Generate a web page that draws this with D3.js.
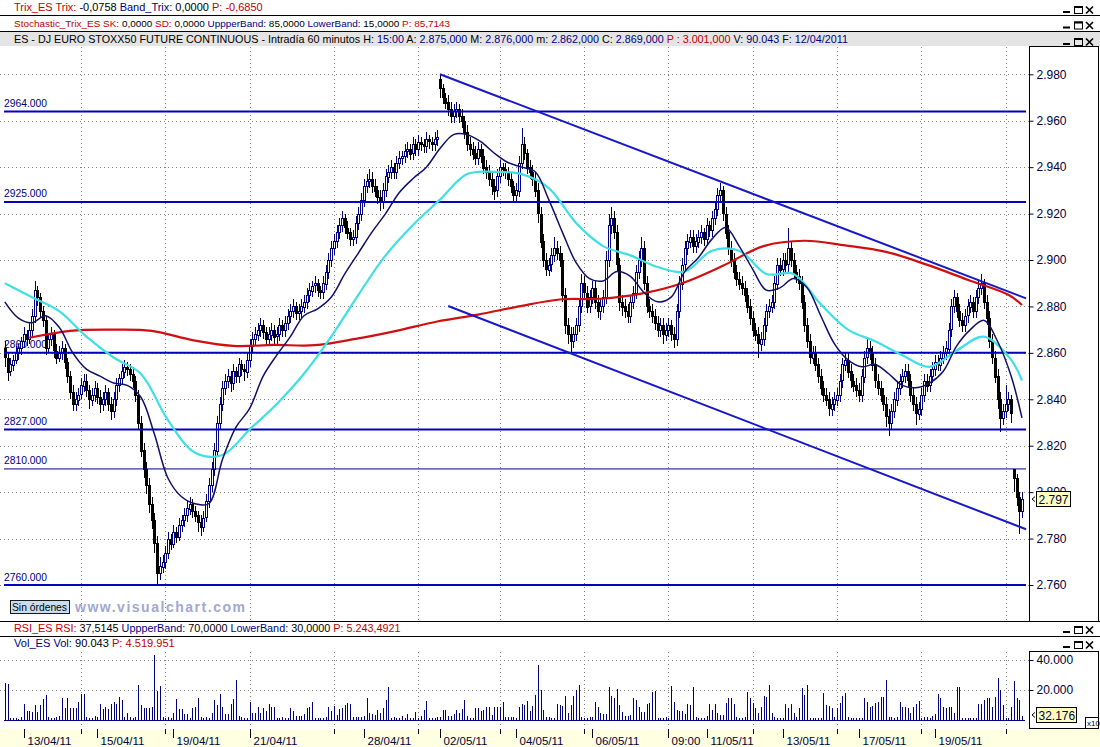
<!DOCTYPE html>
<html>
<head>
<meta charset="utf-8">
<script src="https://cdn.jsdelivr.net/npm/d3@7"></script>
<style>
  body { margin: 0; background: #fff; overflow: hidden; }
  svg { display: block; font-family: "Liberation Sans", Arial, sans-serif; }
</style>
</head>
<body>
<div id="chart"></div>
<script>
// ES - DJ Euro Stoxx50 future, 60 minute bars, 12/04/2011 .. 20/05/2011.

// OHLC per hourly bar (15 bars per row).
const closes = [
  2858, 2852, 2855, 2857, 2860, 2862, 2865, 2868, 2866, 2870, 2876, 2887, 2884, 2878, 2874,
  2862, 2866, 2868, 2861, 2858, 2860, 2862, 2856, 2850, 2843, 2838, 2840, 2842, 2846, 2848,
  2844, 2840, 2842, 2845, 2841, 2838, 2840, 2843, 2838, 2835, 2840, 2846, 2849, 2852, 2854,
  2853, 2851, 2848, 2842, 2830, 2818, 2810, 2803, 2795, 2788, 2778, 2765, 2768, 2770, 2774,
  2780, 2778, 2783, 2781, 2786, 2788, 2790, 2793, 2795, 2792, 2790, 2787, 2785, 2789, 2796,
  2803, 2810, 2818, 2830, 2838, 2845, 2848, 2850, 2847, 2852, 2850, 2855, 2853, 2852, 2857,
  2863, 2866, 2868, 2870, 2872, 2869, 2866, 2868, 2870, 2867, 2868, 2872, 2870, 2873, 2876,
  2878, 2880, 2877, 2878, 2880, 2882, 2885, 2887, 2889, 2890, 2887, 2886, 2890, 2895, 2900,
  2905, 2908, 2912, 2915, 2918, 2914, 2912, 2909, 2910, 2916, 2920, 2926, 2932, 2934, 2935,
  2932, 2930, 2927, 2925, 2930, 2936, 2938, 2940, 2938, 2942, 2944, 2945, 2947, 2948, 2946,
  2950, 2948, 2951, 2950, 2949, 2952, 2951, 2950, 2952, 2953, 2974, 2970, 2968, 2965, 2962,
  2964, 2965, 2962, 2960, 2955, 2950, 2948, 2946, 2944, 2948, 2945, 2940, 2938, 2935, 2932,
  2930, 2936, 2940, 2939, 2938, 2935, 2932, 2928, 2930, 2942, 2950, 2946, 2940, 2938, 2935,
  2930, 2920, 2908, 2900, 2896, 2898, 2902, 2905, 2903, 2900, 2885, 2872, 2868, 2865, 2868,
  2872, 2880, 2890, 2886, 2880, 2884, 2888, 2882, 2878, 2880, 2884, 2900, 2915, 2918, 2912,
  2898, 2882, 2880, 2878, 2876, 2882, 2886, 2895, 2900, 2905, 2890, 2880, 2878, 2876, 2873,
  2870, 2872, 2868, 2870, 2872, 2868, 2866, 2878, 2890, 2898, 2905, 2908, 2910, 2906, 2908,
  2910, 2912, 2909, 2915, 2913, 2918, 2922, 2928, 2930, 2920, 2912, 2905, 2900, 2895, 2892,
  2890, 2888, 2885, 2880, 2875, 2870, 2868, 2864, 2866, 2872, 2878, 2880, 2882, 2890, 2898,
  2896, 2900, 2898, 2905, 2900, 2895, 2893, 2890, 2882, 2872, 2865, 2858, 2860, 2855, 2850,
  2845, 2842, 2840, 2836, 2838, 2840, 2842, 2848, 2855, 2857, 2852, 2848, 2846, 2844, 2842,
  2850, 2858, 2862, 2860, 2855, 2848, 2845, 2842, 2838, 2833, 2830, 2835, 2840, 2845, 2848,
  2850, 2852, 2848, 2842, 2838, 2834, 2836, 2842, 2848, 2846, 2850, 2853, 2856, 2855, 2858,
  2860, 2862, 2870, 2880, 2884, 2878, 2874, 2872, 2876, 2880, 2882, 2878, 2884, 2888, 2890,
  2882, 2875, 2865, 2858, 2850, 2840, 2832, 2835, 2838, 2840, 2834, 2806, 2798, 2792, 2797
];
const opens = [
  2862, 2858, 2852, 2855, 2857, 2860, 2862, 2865, 2868, 2866, 2870, 2876, 2887, 2884, 2878,
  2874, 2862, 2866, 2868, 2861, 2858, 2860, 2862, 2856, 2850, 2843, 2838, 2840, 2842, 2846,
  2848, 2844, 2840, 2842, 2845, 2841, 2838, 2840, 2843, 2838, 2835, 2840, 2846, 2849, 2852,
  2854, 2853, 2851, 2848, 2842, 2830, 2818, 2810, 2803, 2795, 2788, 2778, 2765, 2768, 2770,
  2774, 2780, 2778, 2783, 2781, 2786, 2788, 2790, 2793, 2795, 2792, 2790, 2787, 2785, 2789,
  2796, 2803, 2810, 2818, 2830, 2838, 2845, 2848, 2850, 2847, 2852, 2850, 2855, 2853, 2852,
  2857, 2863, 2866, 2868, 2870, 2872, 2869, 2866, 2868, 2870, 2867, 2868, 2872, 2870, 2873,
  2876, 2878, 2880, 2877, 2878, 2880, 2882, 2885, 2887, 2889, 2890, 2887, 2886, 2890, 2895,
  2900, 2905, 2908, 2912, 2915, 2918, 2914, 2912, 2909, 2910, 2916, 2920, 2926, 2932, 2934,
  2935, 2932, 2930, 2927, 2925, 2930, 2936, 2938, 2940, 2938, 2942, 2944, 2945, 2947, 2948,
  2946, 2950, 2948, 2951, 2950, 2949, 2952, 2951, 2950, 2952, 2978, 2974, 2970, 2968, 2965,
  2962, 2964, 2965, 2962, 2960, 2955, 2950, 2948, 2946, 2944, 2948, 2945, 2940, 2938, 2935,
  2932, 2930, 2936, 2940, 2939, 2938, 2935, 2932, 2928, 2930, 2942, 2950, 2946, 2940, 2938,
  2935, 2930, 2920, 2908, 2900, 2896, 2898, 2902, 2905, 2903, 2900, 2885, 2872, 2868, 2865,
  2868, 2872, 2880, 2890, 2886, 2880, 2884, 2888, 2882, 2878, 2880, 2884, 2900, 2915, 2918,
  2912, 2898, 2882, 2880, 2878, 2876, 2882, 2886, 2895, 2900, 2905, 2890, 2880, 2878, 2876,
  2873, 2870, 2872, 2868, 2870, 2872, 2868, 2866, 2878, 2890, 2898, 2905, 2908, 2910, 2906,
  2908, 2910, 2912, 2909, 2915, 2913, 2918, 2922, 2928, 2930, 2920, 2912, 2905, 2900, 2895,
  2892, 2890, 2888, 2885, 2880, 2875, 2870, 2868, 2864, 2866, 2872, 2878, 2880, 2882, 2890,
  2898, 2896, 2900, 2898, 2905, 2900, 2895, 2893, 2890, 2882, 2872, 2865, 2858, 2860, 2855,
  2850, 2845, 2842, 2840, 2836, 2838, 2840, 2842, 2848, 2855, 2857, 2852, 2848, 2846, 2844,
  2842, 2850, 2858, 2862, 2860, 2855, 2848, 2845, 2842, 2838, 2833, 2830, 2835, 2840, 2845,
  2848, 2850, 2852, 2848, 2842, 2838, 2834, 2836, 2842, 2848, 2846, 2850, 2853, 2856, 2855,
  2858, 2860, 2862, 2870, 2880, 2884, 2878, 2874, 2872, 2876, 2880, 2882, 2878, 2884, 2888,
  2890, 2882, 2875, 2865, 2858, 2850, 2840, 2832, 2835, 2838, 2840, 2810, 2806, 2798, 2792
];
const highs = [
  2865, 2860, 2858, 2859, 2863, 2864, 2867, 2871, 2870, 2873, 2879, 2891, 2889, 2886, 2880,
  2876, 2868, 2871, 2870, 2864, 2863, 2865, 2864, 2858, 2852, 2846, 2843, 2845, 2849, 2851,
  2851, 2846, 2845, 2848, 2847, 2844, 2843, 2846, 2845, 2841, 2843, 2849, 2851, 2855, 2857,
  2856, 2855, 2854, 2850, 2844, 2833, 2821, 2813, 2806, 2798, 2791, 2781, 2772, 2773, 2777,
  2783, 2782, 2786, 2785, 2789, 2790, 2793, 2796, 2798, 2797, 2794, 2792, 2790, 2792, 2799,
  2806, 2813, 2821, 2833, 2841, 2848, 2851, 2853, 2852, 2855, 2854, 2858, 2857, 2855, 2860,
  2866, 2869, 2871, 2873, 2875, 2874, 2871, 2871, 2873, 2872, 2871, 2875, 2874, 2876, 2879,
  2881, 2883, 2882, 2881, 2883, 2885, 2888, 2890, 2891, 2893, 2892, 2889, 2893, 2898, 2903,
  2908, 2911, 2915, 2918, 2921, 2920, 2917, 2914, 2913, 2919, 2923, 2929, 2935, 2937, 2939,
  2938, 2935, 2932, 2930, 2933, 2939, 2941, 2943, 2942, 2945, 2947, 2947, 2950, 2951, 2950,
  2953, 2952, 2954, 2953, 2952, 2955, 2954, 2953, 2955, 2956, 2980, 2976, 2972, 2971, 2968,
  2967, 2968, 2967, 2965, 2962, 2958, 2953, 2951, 2949, 2951, 2950, 2948, 2943, 2941, 2938,
  2935, 2939, 2943, 2942, 2942, 2940, 2938, 2934, 2933, 2945, 2957, 2953, 2948, 2943, 2941,
  2938, 2933, 2923, 2911, 2903, 2901, 2905, 2910, 2908, 2906, 2903, 2888, 2875, 2871, 2871,
  2875, 2883, 2894, 2893, 2889, 2887, 2891, 2891, 2885, 2883, 2887, 2904, 2920, 2923, 2921,
  2915, 2901, 2885, 2883, 2881, 2885, 2889, 2898, 2904, 2910, 2908, 2893, 2883, 2881, 2879,
  2876, 2875, 2875, 2873, 2875, 2874, 2871, 2881, 2893, 2901, 2908, 2911, 2913, 2913, 2911,
  2913, 2915, 2914, 2918, 2917, 2921, 2925, 2931, 2933, 2932, 2923, 2915, 2908, 2903, 2898,
  2895, 2893, 2891, 2888, 2883, 2878, 2873, 2871, 2869, 2875, 2881, 2883, 2885, 2893, 2901,
  2901, 2903, 2903, 2914, 2908, 2903, 2898, 2896, 2893, 2885, 2875, 2868, 2863, 2863, 2858,
  2853, 2848, 2845, 2843, 2841, 2843, 2845, 2851, 2858, 2860, 2860, 2855, 2851, 2849, 2847,
  2853, 2861, 2866, 2865, 2863, 2858, 2851, 2848, 2845, 2841, 2836, 2838, 2843, 2848, 2851,
  2853, 2855, 2855, 2851, 2845, 2841, 2839, 2845, 2851, 2851, 2853, 2856, 2859, 2859, 2861,
  2863, 2865, 2873, 2883, 2887, 2886, 2881, 2877, 2879, 2883, 2885, 2884, 2887, 2891, 2894,
  2892, 2885, 2878, 2868, 2861, 2853, 2843, 2838, 2846, 2843, 2842, 2810, 2808, 2800, 2800
];
const lows = [
  2854, 2848, 2850, 2852, 2855, 2857, 2859, 2862, 2863, 2864, 2867, 2873, 2880, 2875, 2871,
  2859, 2860, 2863, 2858, 2855, 2856, 2857, 2853, 2847, 2840, 2835, 2835, 2837, 2840, 2843,
  2841, 2836, 2837, 2839, 2838, 2834, 2835, 2837, 2835, 2831, 2832, 2837, 2843, 2846, 2849,
  2850, 2848, 2845, 2839, 2827, 2815, 2806, 2799, 2791, 2784, 2774, 2760, 2762, 2765, 2767,
  2771, 2775, 2776, 2778, 2779, 2783, 2785, 2787, 2790, 2789, 2787, 2783, 2781, 2783, 2787,
  2793, 2800, 2807, 2815, 2827, 2835, 2842, 2845, 2843, 2844, 2847, 2847, 2850, 2848, 2849,
  2854, 2860, 2863, 2865, 2867, 2866, 2863, 2863, 2865, 2864, 2864, 2865, 2867, 2867, 2870,
  2873, 2875, 2874, 2874, 2875, 2877, 2879, 2882, 2884, 2886, 2884, 2883, 2883, 2887, 2892,
  2897, 2902, 2905, 2909, 2912, 2911, 2909, 2906, 2906, 2907, 2913, 2917, 2923, 2929, 2931,
  2929, 2927, 2924, 2921, 2922, 2927, 2933, 2935, 2935, 2935, 2939, 2941, 2942, 2944, 2943,
  2943, 2945, 2945, 2947, 2946, 2946, 2948, 2947, 2947, 2949, 2970, 2967, 2965, 2962, 2959,
  2959, 2961, 2959, 2957, 2952, 2947, 2945, 2943, 2941, 2941, 2942, 2937, 2935, 2932, 2928,
  2926, 2927, 2933, 2936, 2935, 2932, 2929, 2925, 2925, 2927, 2939, 2943, 2937, 2935, 2932,
  2927, 2916, 2905, 2897, 2893, 2893, 2895, 2899, 2900, 2897, 2882, 2868, 2864, 2860, 2862,
  2865, 2869, 2877, 2883, 2877, 2877, 2881, 2879, 2875, 2874, 2877, 2881, 2897, 2911, 2909,
  2895, 2878, 2876, 2875, 2873, 2873, 2879, 2883, 2892, 2897, 2887, 2877, 2875, 2873, 2870,
  2867, 2867, 2864, 2865, 2867, 2865, 2862, 2863, 2875, 2887, 2895, 2902, 2905, 2903, 2903,
  2905, 2907, 2906, 2906, 2910, 2910, 2915, 2919, 2925, 2917, 2909, 2902, 2897, 2892, 2889,
  2887, 2885, 2882, 2877, 2872, 2867, 2865, 2858, 2861, 2863, 2869, 2875, 2877, 2879, 2887,
  2893, 2893, 2895, 2895, 2897, 2892, 2890, 2887, 2879, 2869, 2862, 2855, 2855, 2852, 2847,
  2842, 2839, 2837, 2833, 2833, 2835, 2837, 2839, 2845, 2852, 2849, 2845, 2843, 2841, 2839,
  2839, 2847, 2855, 2857, 2852, 2845, 2842, 2839, 2835, 2828, 2824, 2827, 2832, 2837, 2842,
  2845, 2847, 2845, 2839, 2835, 2829, 2831, 2833, 2839, 2843, 2843, 2847, 2850, 2852, 2852,
  2855, 2857, 2859, 2867, 2877, 2875, 2871, 2869, 2869, 2873, 2877, 2875, 2875, 2881, 2885,
  2879, 2872, 2862, 2855, 2847, 2836, 2826, 2829, 2832, 2835, 2830, 2800, 2794, 2782, 2789
];

// Volume per bar, in thousands of contracts (axis units).
const volumeK = [
  24.4, 23.8, 1.5, 1.2, 1.5, 1.0, 1.8, 10.4, 6, 6, 5.5, 10, 5.5, 10, 13.8,
  16.7, 2, 1.5, 1.5, 2, 2.5, 14.4, 7.8, 14.4, 7.8, 7.8, 7.8, 11.8, 17.3, 17.3,
  2, 1.5, 1.5, 2.5, 2, 11, 7.3, 8.9, 7.3, 10.4, 12.2, 10.4, 15.6, 13.3, 2,
  4.4, 2.2, 1.5, 1.8, 23.3, 10, 7.8, 8.2, 8.2, 8.4, 43.3, 19.3, 22.7, 2.2, 1.5,
  2, 1.5, 4.4, 13.8, 7.1, 7.3, 4, 4, 1.5, 8.2, 8.4, 14.4, 2, 1.5, 2,
  1.5, 4.4, 13.3, 10, 17.3, 8.9, 4, 4, 10.4, 13.8, 26.7, 2.7, 1.8, 1.5, 1.5,
  11.8, 4.9, 4.9, 8.9, 4.9, 7.8, 6, 10.4, 8.9, 8.9, 1.5, 1.5, 2, 1.5, 1.5,
  8.2, 6.2, 2.7, 2.7, 2.7, 3.8, 8.2, 8.9, 12.2, 1.5, 1.5, 1.5, 1.5, 2, 8.9,
  6, 9.3, 3.3, 7.3, 8.2, 10, 11.1, 10.4, 2.2, 1.8, 2, 2.2, 2.5, 14.9, 4.4,
  4, 3.3, 6.7, 4.4, 7.8, 13.3, 22.2, 1.5, 1.8, 1.5, 1.5, 2.5, 1.5, 3.8, 1.5,
  1.5, 5.1, 1.5, 2.9, 6.7, 12.9, 1.5, 1.5, 1.5, 1.8, 2.2, 6.7, 6.7, 2.7, 2.7,
  3.8, 6.7, 4.9, 7.3, 13.3, 2.7, 1.1, 1.5, 8.2, 8.2, 6.2, 6.7, 8.9, 8.9, 3.3,
  8.9, 8.4, 8.9, 12.2, 2.2, 2.2, 2.2, 2.2, 1.5, 8.9, 10.7, 10, 12.7, 6.2, 9.6,
  16.7, 36.7, 20, 6.7, 2, 2, 1.1, 1.1, 10.7, 10, 9.3, 16, 4.4, 10, 16,
  20, 23.3, 2.2, 1.5, 1.5, 2.2, 2.2, 11.8, 8.9, 4.4, 4, 4, 22.2, 16, 14.4,
  20.7, 9.8, 5.5, 2.7, 2.7, 3.3, 14.4, 13.3, 8.9, 5.5, 5.5, 10.4, 11.1, 18.9, 19.3,
  1.5, 1.5, 1.5, 2, 1.5, 22.7, 12.2, 6.7, 6.2, 6.2, 4, 10.4, 10, 21.8, 2.2,
  1.5, 1.5, 1.1, 2.7, 10.4, 6.7, 10.4, 4.4, 3.3, 3.3, 11.1, 15, 14.4, 10.4, 2,
  1.5, 1.5, 2.2, 18.9, 14.4, 11.1, 7.8, 4.4, 8.9, 16, 15.6, 23.3, 4.4, 2.2, 1.1,
  1.5, 1.5, 10.4, 7.8, 10.4, 4.4, 1.8, 7.8, 21.1, 16.7, 23.3, 1.5, 1.5, 1.5, 1.5,
  1.5, 17.8, 9.8, 9.3, 7.8, 2.2, 7.8, 11.1, 16, 18.2, 2.2, 1.5, 1.5, 1.1, 1.5,
  1.5, 14.4, 12.2, 8.9, 9.3, 11.6, 12.2, 15.1, 15.6, 26.7, 2.2, 2.2, 1.5, 2.2, 11.8,
  8.9, 8.4, 7.8, 4.9, 8.4, 10.4, 12.7, 1.1, 2.2, 2.2, 1.1, 2.7, 4, 17.1, 14.4,
  8.9, 7.8, 8.4, 8.4, 4.4, 22.2, 22.2, 1.5, 1.1, 1.1, 1.1, 1.1, 1.1, 10.4, 10.4,
  13.3, 14.4, 14.4, 8.9, 15.6, 28.2, 20, 10, 1.1, 1.1, 8.9, 26, 14.9, 13.3, 2.7
];

// Moving averages (navy every 5 bars, cyan every 10, red every 15).
const navyMA = [
  2882, 2875, 2873, 2876, 2871, 2860, 2853, 2850, 2847, 2846, 2841, 2825, 2806, 2798, 2795,
  2795, 2814, 2828, 2836, 2850, 2859, 2867, 2876, 2879, 2884, 2894, 2903, 2912, 2920, 2929,
  2935, 2940, 2948, 2954, 2954, 2951, 2946, 2942, 2940, 2938, 2926, 2912, 2899, 2892, 2891,
  2895, 2893, 2886, 2882, 2884, 2895, 2901, 2909, 2914, 2906, 2896, 2887, 2888, 2892, 2888,
  2876, 2864, 2857, 2854, 2855, 2851, 2846, 2845, 2847, 2852, 2863, 2870, 2874, 2865, 2850,
  2832
];
const cyanMA = [
  2890, 2884, 2878, 2867, 2858, 2851, 2831, 2817, 2816, 2827, 2838, 2851, 2867, 2885, 2902,
  2915, 2926, 2937, 2938, 2937, 2931, 2916, 2906, 2902, 2897, 2895, 2904, 2904, 2894, 2894,
  2881, 2870, 2865, 2859, 2854, 2861, 2867, 2857, 2848
];
const redMA = [
  2866.5, 2869.5, 2870, 2869.5, 2865.5, 2863, 2863.4, 2863.3, 2866, 2869.5, 2873.5, 2876.5,
  2880, 2883, 2883.3, 2885.5, 2890, 2897.5, 2906, 2908.3, 2906.3, 2903.5, 2898, 2891.5,
  2885, 2880.6
];
const navyBars = d3.range(0, 371, 5).concat([374]);
const cyanBars = d3.range(0, 371, 10).concat([374]);
const redBars = d3.range(9, 370, 15).concat([374]);

// Drawn levels and trend lines.
const levels = [2964, 2925, 2860, 2827, 2810, 2760];
const thinLevels = [2810];
const trendUpper = [[160, 2980], [375.5, 2883.5]];
const trendLower = [[163, 2880.2], [375.5, 2784]];

// Axes.
const priceTicks = d3.range(2760, 2981, 20);
const volTicks = [20, 40];
const dayBars = [7, 34, 62, 90, 132, 160, 188, 216, 244, 258, 286, 314, 342];
const dayLabels = ['13/04/11', '15/04/11', '19/04/11', '21/04/11', '28/04/11', '02/05/11',
  '04/05/11', '06/05/11', '09:00', '11/05/11', '13/05/11', '17/05/11', '19/05/11'];
const gridBars = [28, 59, 90, 121, 152, 182, 213, 244, 275, 306, 337, 368];
const volLastLabel = '32.176';

const RED = '#c00000';
const NAVY = '#000080';
const INK = '#000040';

const W = 1100, H = 747;
const svg = d3.select('#chart').append('svg')
  .attr('width', W)
  .attr('height', H);

const x = d3.scaleLinear().domain([0, 374]).range([4.8, 1022]);
const y = d3.scaleLinear().domain([2760, 2980]).range([585, 74.3]);
const yVol = d3.scaleLinear().domain([0, 40]).range([720, 660]);
const px = i => Math.round(x(i));

// Header rows: one text per row, font size fitted to the row's width.
function headerRow(yBase, parts, len) {
  const t = svg.append('text')
    .attr('x', 14)
    .attr('y', yBase)
    .attr('font-size', 11)
    .style('white-space', 'pre');
  parts.forEach(p => t.append('tspan').attr('fill', p[1]).text(p[0]));
  const w = t.node().getComputedTextLength();
  if (w > 0) t.attr('font-size', Math.min(11.5, 11 * len / w));
}

function winButtons(yTop) {
  const b = svg.append('g').attr('transform', `translate(1062,${yTop})`);
  b.append('rect').attr('x', 1).attr('y', 5).attr('width', 7).attr('height', 2).attr('fill', '#000');
  b.append('rect').attr('x', 12.5).attr('y', 0.5).attr('width', 8).attr('height', 7)
    .attr('fill', 'none').attr('stroke', '#000');
  b.append('rect').attr('x', 12).attr('y', 0).attr('width', 9).attr('height', 2).attr('fill', '#000');
  b.append('path').attr('d', 'M24,0.5L31,7.5M31,0.5L24,7.5')
    .attr('stroke', '#000').attr('stroke-width', 1.6);
}

svg.append('rect').attr('x', 0).attr('y', 32).attr('width', W).attr('height', 14).attr('fill', '#e4e4e4');
[15.5, 31.5, 621.5, 636.5].forEach(yy => {
  svg.append('line').attr('x1', 0).attr('x2', W).attr('y1', yy).attr('y2', yy).attr('stroke', '#000');
});

headerRow(11, [['Trix_ES ', RED], ['Trix: ', RED], ['-0,0758 ', '#000'], ['Band_Trix: ', NAVY],
  ['0,0000 ', '#000'], ['P: -0,6850', RED]], 249);
headerRow(27, [['Stochastic_Trix_ES ', RED], ['SK: ', RED], ['0,0000 ', '#000'], ['SD: ', RED],
  ['0,0000 ', '#000'], ['UppperBand: ', NAVY], ['85,0000 ', '#000'], ['LowerBand: ', NAVY],
  ['15,0000 ', '#000'], ['P: 85,7143', RED]], 437);
headerRow(43, [['ES - DJ EURO STOXX50 FUTURE CONTINUOUS - Intradía 60 minutos ', '#000'],
  ['H: ', '#000'], ['15:00 ', NAVY], ['A: ', '#000'], ['2.875,000 ', NAVY], ['M: ', '#000'],
  ['2.876,000 ', NAVY], ['m: ', '#000'], ['2.862,000 ', NAVY], ['C: ', '#000'], ['2.869,000 ', NAVY],
  ['P : 3.001,000 ', RED], ['V: ', '#000'], ['90.043 ', NAVY], ['F: ', '#000'], ['12/04/2011', NAVY]], 835);
headerRow(632, [['RSI_ES ', RED], ['RSI: ', RED], ['37,5145 ', '#000'], ['UppperBand: ', NAVY],
  ['70,0000 ', '#000'], ['LowerBand: ', NAVY], ['30,0000 ', '#000'], ['P: 5.243,4921', RED]], 387);
headerRow(647, [['Vol_ES ', NAVY], ['Vol: ', NAVY], ['90.043 ', '#000'], ['P: 4.519.951', RED]], 161);

[6, 21.5, 38, 626, 641].forEach(winButtons);

// Grid.
const grid = svg.append('g')
  .attr('stroke', '#808080')
  .attr('stroke-dasharray', '1,3')
  .attr('shape-rendering', 'crispEdges');

grid.selectAll('line.h')
  .data(priceTicks)
  .join('line')
  .attr('x1', 0).attr('x2', 1029)
  .attr('y1', d => Math.round(y(d)) + 0.5)
  .attr('y2', d => Math.round(y(d)) + 0.5);

grid.selectAll('line.hv')
  .data(volTicks)
  .join('line')
  .attr('x1', 0).attr('x2', 1029)
  .attr('y1', d => Math.round(yVol(d)) + 0.5)
  .attr('y2', d => Math.round(yVol(d)) + 0.5);

gridBars.forEach(b => {
  grid.append('line').attr('x1', px(b) + 0.5).attr('x2', px(b) + 0.5).attr('y1', 47).attr('y2', 621);
  grid.append('line').attr('x1', px(b) + 0.5).attr('x2', px(b) + 0.5).attr('y1', 652).attr('y2', 728);
});

// Level labels (behind candles).
svg.append('g')
  .selectAll('text')
  .data(levels)
  .join('text')
  .attr('x', 4)
  .attr('y', d => y(d) - 4.5)
  .attr('font-size', 11)
  .attr('textLength', 43)
  .attr('lengthAdjust', 'spacingAndGlyphs')
  .attr('fill', NAVY)
  .text(d => d + '.000');

// Candles.
const idx = d3.range(closes.length);
const candles = svg.append('g').attr('shape-rendering', 'crispEdges');
const isUp = i => closes[i] >= opens[i];

candles.selectAll('line')
  .data(idx)
  .join('line')
  .attr('x1', i => px(i) + 0.5)
  .attr('x2', i => px(i) + 0.5)
  .attr('y1', i => y(highs[i]))
  .attr('y2', i => y(lows[i]))
  .attr('stroke', i => isUp(i) ? NAVY : '#000');

candles.selectAll('rect')
  .data(idx)
  .join('rect')
  .attr('x', i => px(i) - 0.5)
  .attr('width', 2)
  .attr('y', i => Math.round(y(Math.max(opens[i], closes[i]))) + 0.5)
  .attr('height', i => Math.max(0, Math.round(y(Math.min(opens[i], closes[i])) - y(Math.max(opens[i], closes[i])))))
  .attr('fill', i => isUp(i) ? '#fff' : '#000')
  .attr('stroke', i => isUp(i) ? NAVY : '#000');

// Horizontal levels.
svg.append('g')
  .selectAll('line')
  .data(levels)
  .join('line')
  .attr('x1', 4).attr('x2', 1026)
  .attr('y1', d => y(d)).attr('y2', d => y(d))
  .attr('stroke', d => thinLevels.includes(d) ? NAVY : '#0000c0')
  .attr('stroke-width', d => thinLevels.includes(d) ? 1 : 2);

// Moving averages.
function maLine(bars, values, color, width) {
  const line = d3.line()
    .x((d, i) => x(bars[i]))
    .y(d => y(d))
    .curve(d3.curveCatmullRom.alpha(0.5));
  svg.append('path')
    .datum(values)
    .attr('d', line)
    .attr('fill', 'none')
    .attr('stroke', color)
    .attr('stroke-width', width);
}
maLine(redBars, redMA, '#d01010', 2.2);
maLine(cyanBars, cyanMA, '#3ee0e6', 2.2);
maLine(navyBars, navyMA, '#10106a', 1.5);

// Trend lines.
[trendUpper, trendLower].forEach(t => {
  svg.append('line')
    .attr('x1', x(t[0][0])).attr('y1', y(t[0][1]))
    .attr('x2', x(t[1][0])).attr('y2', y(t[1][1]))
    .attr('stroke', '#1818c8')
    .attr('stroke-width', 2);
});

// "Sin órdenes" button and watermark.
svg.append('rect').attr('x', 10.5).attr('y', 600.5).attr('width', 59).attr('height', 13)
  .attr('fill', '#c9ddf2').attr('stroke', '#1a1a1a');
svg.append('text').attr('x', 12).attr('y', 611).attr('font-size', 10.5)
  .attr('textLength', 55).attr('lengthAdjust', 'spacingAndGlyphs').text('Sin órdenes');
svg.append('text').attr('x', 75).attr('y', 611.5).attr('font-size', 14).attr('font-weight', 'bold')
  .attr('fill', '#a2a8cf').attr('textLength', 170).attr('lengthAdjust', 'spacing')
  .text('www.visualchart.com');

// Volume.
const vol = svg.append('g').attr('shape-rendering', 'crispEdges');
vol.append('line').attr('x1', 4).attr('x2', 1025).attr('y1', 720.5).attr('y2', 720.5).attr('stroke', NAVY);
vol.selectAll('line.v')
  .data(idx)
  .join('line')
  .attr('x1', i => px(i) + 0.5)
  .attr('x2', i => px(i) + 0.5)
  .attr('y1', yVol(0))
  .attr('y2', i => yVol(volumeK[i]))
  .attr('stroke', NAVY);

// Axis boxes.
svg.append('rect').attr('x', 1029.5).attr('y', 46.5).attr('width', 69).attr('height', 575)
  .attr('fill', '#fff').attr('stroke', '#000');
svg.append('rect').attr('x', 1029.5).attr('y', 651.5).attr('width', 69).attr('height', 77)
  .attr('fill', '#fff').attr('stroke', '#000');

function styleAxis(g) {
  g.select('.domain').remove();
  g.selectAll('.tick line').attr('stroke', INK);
  g.selectAll('.tick text').attr('fill', INK).attr('font-size', 12)
    .attr('font-family', '"Liberation Sans", Arial, sans-serif');
}

svg.append('g')
  .attr('transform', 'translate(1029.5,0)')
  .call(d3.axisRight(y).tickValues(priceTicks).tickSize(4).tickFormat(d => (d / 1000).toFixed(3)))
  .call(styleAxis);

svg.append('g')
  .attr('transform', 'translate(1029.5,0)')
  .call(d3.axisRight(yVol).tickValues(volTicks).tickSize(4).tickFormat(d => d + '.000'))
  .call(styleAxis);

// Last price and last volume tags.
const lastClose = closes[closes.length - 1];
function valueTag(yy, label, w) {
  svg.append('path').attr('d', `M1035,${yy - 2.5}L1032,${yy}L1035,${yy + 2.5}`)
    .attr('fill', 'none').attr('stroke', '#000');
  svg.append('rect').attr('x', 1036.5).attr('y', Math.round(yy) - 7.5).attr('width', w).attr('height', 15)
    .attr('fill', '#ffffc0').attr('stroke', '#000');
  svg.append('text').attr('x', 1038.5).attr('y', Math.round(yy) + 4.5).attr('font-size', 12)
    .attr('fill', INK).text(label);
}
valueTag(y(lastClose), (lastClose / 1000).toFixed(3), 34);
valueTag(yVol(volumeK[volumeK.length - 1]) - 1, volLastLabel, 40);

svg.append('rect').attr('x', 1085.5).attr('y', 717.5).attr('width', 13).attr('height', 11)
  .attr('fill', '#fff').attr('stroke', '#000');
svg.append('text').attr('x', 1087).attr('y', 726).attr('font-size', 8).text('x10');

// Date axis.
svg.append('rect').attr('x', 0).attr('y', 729).attr('width', W).attr('height', H - 729).attr('fill', '#ffffe1');

const dateAxis = svg.append('g')
  .attr('transform', 'translate(0.5,729)')
  .call(d3.axisBottom(x).tickValues(dayBars).tickSize(9).tickFormat((d, i) => dayLabels[i]))
  .call(g => g.select('.domain').remove());
dateAxis.selectAll('.tick').attr('transform', d => `translate(${px(d)},0)`);
dateAxis.selectAll('.tick line').attr('stroke', '#000');
dateAxis.selectAll('.tick text')
  .attr('text-anchor', 'start')
  .attr('x', 3)
  .attr('y', 16)
  .attr('dy', 0)
  .attr('fill', INK)
  .attr('font-size', 11.5)
  .attr('font-family', '"Liberation Sans", Arial, sans-serif');

svg.append('g')
  .selectAll('line')
  .data(gridBars)
  .join('line')
  .attr('x1', d => px(d) + 0.5).attr('x2', d => px(d) + 0.5)
  .attr('y1', 729).attr('y2', 734)
  .attr('stroke', '#000');
</script>
</body>
</html>
